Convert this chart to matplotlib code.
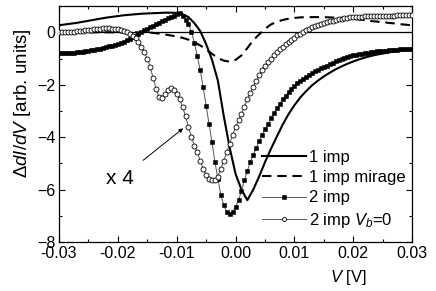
import numpy as np
import matplotlib
matplotlib.use('Agg')
import matplotlib.pyplot as plt
from matplotlib.ticker import MultipleLocator

plt.rcParams['font.family'] = ['Liberation Sans', 'DejaVu Sans']
plt.rcParams['mathtext.fontset'] = 'custom'
plt.rcParams['mathtext.rm'] = 'Liberation Sans'
plt.rcParams['mathtext.it'] = 'Liberation Sans:italic'

# bias grids (V)
v_fine = np.round(np.arange(121) * 0.0005 - 0.03, 4)
v_coarse = np.round(np.arange(61) * 0.001 - 0.03, 3)

# 1 imp (solid), on v_coarse
one_imp = [0.27, 0.30, 0.33, 0.36, 0.40, 0.44, 0.48, 0.52, 0.56, 0.59,
           0.62, 0.65, 0.67, 0.69, 0.71, 0.72, 0.73, 0.74, 0.75, 0.75,
           0.74, 0.69, 0.58, 0.35, 0.05, -0.45, -1.05, -1.85, -3.20, -4.40,
           -5.40, -6.00, -6.40, -6.00, -5.50, -4.95, -4.45, -3.98, -3.52, -3.12,
           -2.78, -2.48, -2.24, -2.02, -1.84, -1.68, -1.54, -1.41, -1.30, -1.20,
           -1.11, -1.03, -0.96, -0.90, -0.85, -0.81, -0.77, -0.73, -0.70, -0.67,
           -0.65]

# 1 imp mirage (dashed), on v_coarse
one_imp_mirage = [0.0, 0.0, 0.0, 0.0, 0.0, 0.0, 0.0, 0.0, 0.0, 0.0,
                  0.0, 0.0, 0.0, 0.0, 0.0, 0.0, -0.02, -0.05, -0.08, -0.12,
                  -0.16, -0.21, -0.28, -0.38, -0.50, -0.65, -0.82, -0.98, -1.08, -1.12,
                  -1.05, -0.88, -0.60, -0.30, -0.08, 0.13, 0.30, 0.40, 0.47, 0.52,
                  0.55, 0.57, 0.58, 0.58, 0.58, 0.58, 0.57, 0.56, 0.55, 0.53,
                  0.51, 0.49, 0.46, 0.43, 0.41, 0.39, 0.36, 0.34, 0.31, 0.29,
                  0.27]

# 2 imp (filled squares), on v_fine
two_imp = [-0.80, -0.80, -0.79, -0.78, -0.78, -0.77, -0.76, -0.75, -0.74, -0.72,
           -0.71, -0.69, -0.67, -0.65, -0.62, -0.60, -0.57, -0.54, -0.51, -0.48,
           -0.45, -0.40, -0.35, -0.30, -0.25, -0.19, -0.13, -0.06, 0.01, 0.07,
           0.14, 0.20, 0.26, 0.32, 0.37, 0.43, 0.48, 0.53, 0.59, 0.64,
           0.70, 0.72, 0.62, 0.48, 0.32, 0.02, -0.40, -0.90, -1.45, -2.10,
           -2.80, -3.50, -4.20, -4.95, -5.60, -6.20, -6.60, -6.85, -6.92, -6.85,
           -6.65, -6.40, -6.05, -5.65, -5.28, -4.95, -4.68, -4.42, -4.15, -3.90,
           -3.70, -3.50, -3.27, -3.07, -2.90, -2.73, -2.56, -2.41, -2.28, -2.16,
           -2.04, -1.94, -1.85, -1.77, -1.70, -1.63, -1.56, -1.49, -1.43, -1.37,
           -1.32, -1.27, -1.21, -1.16, -1.11, -1.06, -1.02, -0.99, -0.95, -0.92,
           -0.88, -0.86, -0.84, -0.82, -0.80, -0.78, -0.76, -0.75, -0.73, -0.72,
           -0.71, -0.70, -0.69, -0.68, -0.67, -0.66, -0.65, -0.64, -0.63, -0.63,
           -0.62]

# 2 imp Vb=0 (open circles, x4), on v_fine
two_imp_vb0 = [0.00, 0.00, 0.01, 0.01, 0.02, 0.03, 0.04, 0.05, 0.06, 0.08,
               0.09, 0.10, 0.12, 0.13, 0.14, 0.15, 0.15, 0.15, 0.14, 0.13,
               0.11, 0.08, 0.05, 0.01, -0.05, -0.13, -0.22, -0.38, -0.56, -0.76,
               -1.00, -1.32, -1.75, -2.15, -2.48, -2.50, -2.35, -2.20, -2.14, -2.20,
               -2.36, -2.56, -2.84, -3.20, -3.62, -3.98, -4.32, -4.58, -4.90, -5.20,
               -5.45, -5.60, -5.64, -5.62, -5.50, -5.20, -4.90, -4.58, -4.25, -3.92,
               -3.62, -3.36, -3.10, -2.84, -2.55, -2.30, -2.07, -1.85, -1.63, -1.45,
               -1.30, -1.15, -1.01, -0.88, -0.76, -0.65, -0.56, -0.46, -0.37, -0.28,
               -0.20, -0.12, -0.05, 0.01, 0.07, 0.13, 0.19, 0.24, 0.29, 0.33,
               0.37, 0.40, 0.43, 0.45, 0.47, 0.49, 0.51, 0.53, 0.55, 0.57,
               0.58, 0.59, 0.60, 0.60, 0.61, 0.61, 0.62, 0.62, 0.63, 0.63,
               0.63, 0.64, 0.64, 0.64, 0.64, 0.65, 0.65, 0.65, 0.65, 0.65,
               0.65]

fig = plt.figure(figsize=(4.36, 2.91), dpi=100)
ax = fig.add_axes([0.1353, 0.168, 0.81, 0.811])

ax.axhline(0, color='black', lw=0.9, zorder=1)

ax.plot(v_coarse, one_imp, '-', color='black', lw=1.5, label='1 imp', zorder=3)
ax.plot(v_coarse, one_imp_mirage, '--', color='black', lw=1.5, dashes=(4.5, 2.8),
        label='1 imp mirage', zorder=3)
ax.plot(v_fine, two_imp, '-', color='#555555', lw=0.7, marker='s', ms=3.0,
        mfc='black', mec='black', mew=0.4, label='2 imp', zorder=4)
ax.plot(v_fine, two_imp_vb0, '-', color='#555555', lw=0.7, marker='o', ms=3.6,
        mfc='white', mec='black', mew=0.6, label='2 imp $V_b$=0', zorder=4)

ax.annotate('', xy=(-0.0089, -3.66), xytext=(-0.0157, -4.88),
            arrowprops=dict(arrowstyle='-|>', color='black', lw=0.7,
                            mutation_scale=6, shrinkA=0, shrinkB=0))
ax.text(-0.0196, -5.56, 'x 4', fontsize=15, ha='center', va='center')

ax.set_xlim(-0.03, 0.03)
ax.set_ylim(-8, 1)
ax.xaxis.set_major_locator(MultipleLocator(0.01))
ax.xaxis.set_minor_locator(MultipleLocator(0.005))
ax.yaxis.set_major_locator(MultipleLocator(2))
ax.yaxis.set_minor_locator(MultipleLocator(1))
ax.set_xticklabels([f'{t:.2f}' for t in ax.get_xticks()])
ax.tick_params(which='both', direction='in', top=True, right=True, labelsize=11.5,
               width=0.8, pad=2.5)
ax.tick_params(which='major', length=4)
ax.tick_params(which='minor', length=2.5)
for s in ax.spines.values():
    s.set_linewidth(0.9)

ax.set_xlabel('$V$ [V]', fontsize=12)
ax.xaxis.set_label_coords(0.82, -0.11)
ax.set_ylabel(r'$\Delta d\mathit{I}/d\mathit{V}$ [arb. units]', fontsize=13.5)
ax.yaxis.set_label_coords(-0.074, 0.59)

ax.legend(loc='lower right', bbox_to_anchor=(1.011, 0.01), frameon=False,
          fontsize=12, handlelength=2.65, handletextpad=0.2, labelspacing=0.32,
          borderaxespad=0.2, markerscale=0.8)

fig.savefig('out.png', dpi=100)
